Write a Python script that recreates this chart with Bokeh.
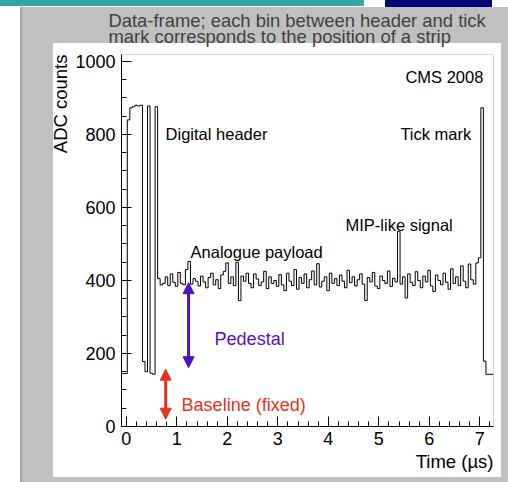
from bokeh.plotting import figure
from bokeh.models import (Range1d, SingleIntervalTicker, BoxAnnotation, Label,
                          Arrow, NormalHead, Title)
from bokeh.embed import file_html
from bokeh.resources import INLINE

FONT = "Liberation Sans"

# ---------------- data (ADC counts per 50 ns bin) ----------------
bin_start = -0.08     # µs, low edge of first bin
bin_width = 0.05      # µs
pre_frame = [145, 145]
digital_header = [840, 873, 876, 880, 878, 880, 178, 150, 878, 146, 143, 876]
analogue_payload = [
    405, 388, 392, 410, 386, 418, 395, 384, 422, 392, 388, 430, 452, 390, 405, 398,
    385, 412, 396, 380, 408, 420, 388, 402, 378, 415, 425, 448, 392, 410, 386, 450,
    345, 412, 398, 420, 392, 380, 418, 404, 386, 396, 425, 378, 410, 392, 400, 384,
    416, 388, 372, 420, 398, 386, 430, 376, 408, 392, 418, 380, 402, 426, 388, 446,
    382, 398, 410, 372, 420, 392, 405, 386, 415, 398, 380, 428, 394, 410, 385, 402,
    418, 390, 345, 408, 396, 422, 385, 378, 412, 400, 392, 426, 384, 406, 396, 535,
    390, 410, 352, 418, 395, 386, 424, 400, 380, 412, 396, 428, 385, 370, 415, 400,
    388, 420, 395, 376, 432, 392, 410, 386, 440, 398, 380, 445, 402, 390, 448, 462,
]
tick_mark = [873]
post_frame = [179, 143, 143, 143]

counts = pre_frame + digital_header + analogue_payload + tick_mark + post_frame
edges = [bin_start + i * bin_width for i in range(len(counts) + 1)]
step_y = counts + [counts[-1]]

# ---------------- figure ----------------
W, H = 508, 482
p = figure(width=W, height=H, output_backend="svg", toolbar_location=None,
           x_range=Range1d(-0.095, 7.27), y_range=Range1d(0, 1019),
           min_border_left=121, min_border_right=15, min_border_top=54,
           min_border_bottom=56)
p.background_fill_color = "white"
p.border_fill_alpha = 0
p.outline_line_color = None
p.grid.visible = False

# slide backdrop (painted behind the transparent canvas)
p.styles = {"background": (
    "linear-gradient(#ffffff,#ffffff) 53px 43px / 448px 434px no-repeat, "
    "linear-gradient(#a4a4a4,#a4a4a4) 20px 7px / 2px 475px no-repeat, "
    "linear-gradient(#c0c0c0,#c0c0c0) 20px 7px / 488px 475px no-repeat, "
    "linear-gradient(#33a6a6,#33a6a6) 0px 0px / 364px 6px no-repeat, "
    "linear-gradient(#000078,#000078) 385px 0px / 107px 7px no-repeat, "
    "#ffffff")}

# histogram outline
p.step(edges, step_y, mode="after", line_color="black", line_width=1)

# frame border
p.add_layout(BoxAnnotation(fill_alpha=0, line_color="black", line_width=1,
                           level="overlay"))

# axes
for ax in (p.xaxis[0], p.yaxis[0]):
    ax.axis_line_color = "black"
    ax.major_tick_line_color = "black"
    ax.minor_tick_line_color = "black"
    ax.major_tick_in = 10
    ax.major_tick_out = 0
    ax.minor_tick_in = 5
    ax.minor_tick_out = 0
    ax.major_label_text_font = FONT
    ax.major_label_text_font_size = "18px"
    ax.major_label_text_color = "black"

p.xaxis.ticker = SingleIntervalTicker(interval=1, num_minor_ticks=5)
p.yaxis.ticker = SingleIntervalTicker(interval=200, num_minor_ticks=4)
p.xaxis.major_label_standoff = 5
p.yaxis.major_label_standoff = 6

# slide title and axis titles (panel elements outside the frame)
p.title = Title(text="Data-frame; each bin between header and tick\n"
                     "mark corresponds to the position of a strip",
                align="left", offset=-13, standoff=15,
                text_font=FONT, text_font_size="18.4px", text_font_style="normal",
                text_color="#404040", text_line_height=0.78)
p.add_layout(Title(text="Time (µs)", align="right", standoff=3,
                   text_font=FONT, text_font_size="18.5px", text_font_style="normal",
                   text_color="black"), "below")
p.add_layout(Title(text="ADC counts", align="right", standoff=3,
                   text_font=FONT, text_font_size="18.5px", text_font_style="normal",
                   text_color="black"), "left")

# annotations inside the frame
notes = [
    ("CMS 2008", 7.07, 956, "16.5px", "black", "right"),
    ("Digital header", 0.778, 800, "16.5px", "black", "left"),
    ("Tick mark", 6.83, 800, "16.5px", "black", "right"),
    ("MIP-like signal", 4.34, 552, "16.5px", "black", "left"),
    ("Analogue payload", 1.273, 477, "16.5px", "black", "left"),
    ("Pedestal", 1.748, 240, "18px", "#5511cc", "left"),
    ("Baseline (fixed)", 1.095, 59, "18px", "#e6321e", "left"),
]
for txt, x, y, fs, col, al in notes:
    p.add_layout(Label(x=x, y=y, text=txt, text_font=FONT, text_font_size=fs,
                       text_color=col, text_baseline="alphabetic", text_align=al))

p.add_layout(Arrow(x_start=1.233, y_start=394, x_end=1.233, y_end=161,
                   line_color="#5010c4", line_width=3,
                   start=NormalHead(size=11, fill_color="#5010c4", line_color="#5010c4"),
                   end=NormalHead(size=11, fill_color="#5010c4", line_color="#5010c4")))
p.add_layout(Arrow(x_start=0.78, y_start=157, x_end=0.78, y_end=20,
                   line_color="#e6321e", line_width=3,
                   start=NormalHead(size=11, fill_color="#e6321e", line_color="#e6321e"),
                   end=NormalHead(size=11, fill_color="#e6321e", line_color="#e6321e")))

open("out.html", "w").write(file_html(p, INLINE))
